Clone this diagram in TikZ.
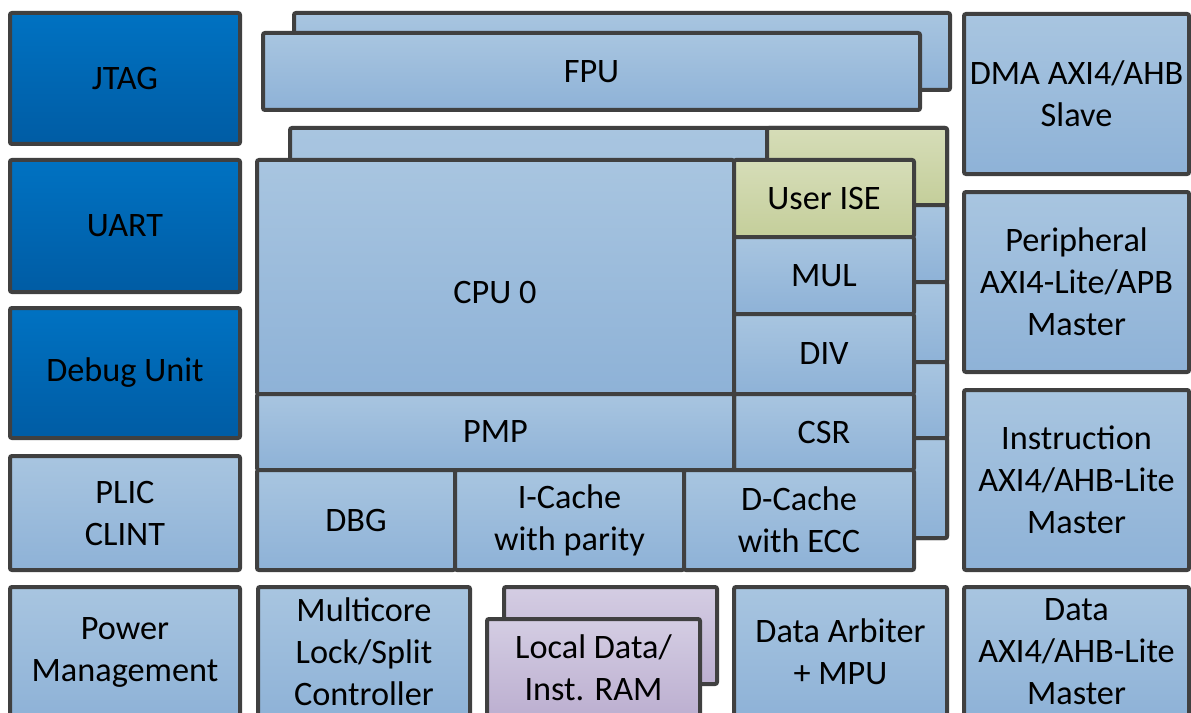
\documentclass[tikz,border=0pt]{standalone}
\usepackage{fontspec}
\setmainfont{Carlito}
\definecolor{bd}{HTML}{404040}
\definecolor{lbT}{HTML}{A8C5E0}
\definecolor{lbB}{HTML}{8EB2D7}
\definecolor{dbT}{HTML}{0072C2}
\definecolor{dbB}{HTML}{005CA4}
\definecolor{grT}{HTML}{D6DDB8}
\definecolor{grB}{HTML}{C4CE9A}
\definecolor{puT}{HTML}{D4CDE3}
\definecolor{puB}{HTML}{BCAFD0}
% #1 style, #2 name, #3 x1, #4 y1, #5 x2, #6 y2, #7 text
\newcommand\bx[7]{%
  \pgfmathsetmacro\bxw{0.75*(#5-#3)}%
  \pgfmathsetmacro\bxh{0.75*(#6-#4)}%
  \node[#1, minimum width=\bxw pt, minimum height=\bxh pt] (#2) at ({(#3+#5)/2},{(#4+#6)/2}) {#7};}
\begin{document}
\begin{tikzpicture}[x=0.75pt,y=-0.75pt,
  blk/.style={draw=bd, line width=3pt, rounded corners=1.5pt, inner sep=0pt, align=center,
    font=\fontsize{25.7}{31.5}\selectfont},
  lb/.style={blk, top color=lbT, bottom color=lbB},
  db/.style={blk, top color=dbT, bottom color=dbB},
  gr/.style={blk, top color=grT, bottom color=grB},
  pu/.style={blk, top color=puT, bottom color=puB},
  txt/.style={inner sep=0pt, align=center, font=\fontsize{25.7}{31.5}\selectfont}]
\useasboundingbox (0,0) rectangle (1191,713);
\clip (0,0) rectangle (1191,713);
% left column
\bx{db}{jtag}{10}{13}{240}{144}{JTAG}
\bx{db}{uart}{10}{160}{240}{292}{UART}
\bx{db}{dbgu}{10}{308}{240}{438}{Debug Unit}
\bx{lb}{plic}{10}{456}{240}{570}{PLIC\\CLINT}
\bx{lb}{pwr}{10}{587}{240}{717}{Power\\Management}
% right column
\bx{lb}{dma}{964}{14}{1189}{174}{DMA AXI4/AHB\\Slave}
\bx{lb}{periph}{964}{192}{1189}{372}{Peripheral\\AXI4-Lite/APB\\Master}
\bx{lb}{instr}{964}{390}{1189}{570}{Instruction\\AXI4/AHB-Lite\\Master}
\bx{lb}{data}{964}{587}{1189}{717}{Data\\AXI4/AHB-Lite\\Master}
% FPU stack
\bx{lb}{fpub}{294}{13}{950}{90}{}
\bx{lb}{fpu}{263}{33}{920}{110}{FPU}
% CPU back copy
\bx{lb}{cpub}{290}{128}{947}{538}{}
\bx{gr}{iseb}{767}{128}{947}{205}{}
\bx{lb}{mulb}{767}{205}{947}{282}{}
\bx{lb}{divb}{767}{282}{947}{362}{}
\bx{lb}{csrb}{767}{362}{947}{438}{}
\bx{lb}{dcb}{717}{438}{947}{538}{}
% CPU front
\bx{lb}{cpu}{257}{160}{734}{394}{}
\node[txt] (cputxt) at (495,293) {CPU 0};
\bx{gr}{ise}{734}{160}{914}{237}{User ISE}
\bx{lb}{mul}{734}{237}{914}{314}{MUL}
\bx{lb}{div}{734}{314}{914}{394}{DIV}
\bx{lb}{csr}{734}{394}{914}{470}{CSR}
\bx{lb}{pmp}{257}{394}{734}{470}{PMP}
\bx{lb}{dbg}{257}{470}{455}{570}{DBG}
\bx{lb}{icache}{455}{470}{684}{570}{I-Cache\\with parity}
\bx{lb}{dcache}{684}{470}{914}{570}{D-Cache\\with ECC}
% bottom row
\bx{lb}{mc}{258}{587}{470}{717}{Multicore\\Lock/Split\\Controller}
\bx{pu}{ramb}{504}{587}{717}{684}{}
\bx{pu}{ram}{487}{619}{700}{717}{Local Data/\\Inst. RAM}
\bx{lb}{arb}{734}{587}{947}{717}{Data Arbiter\\+ MPU}
\end{tikzpicture}
\end{document}
